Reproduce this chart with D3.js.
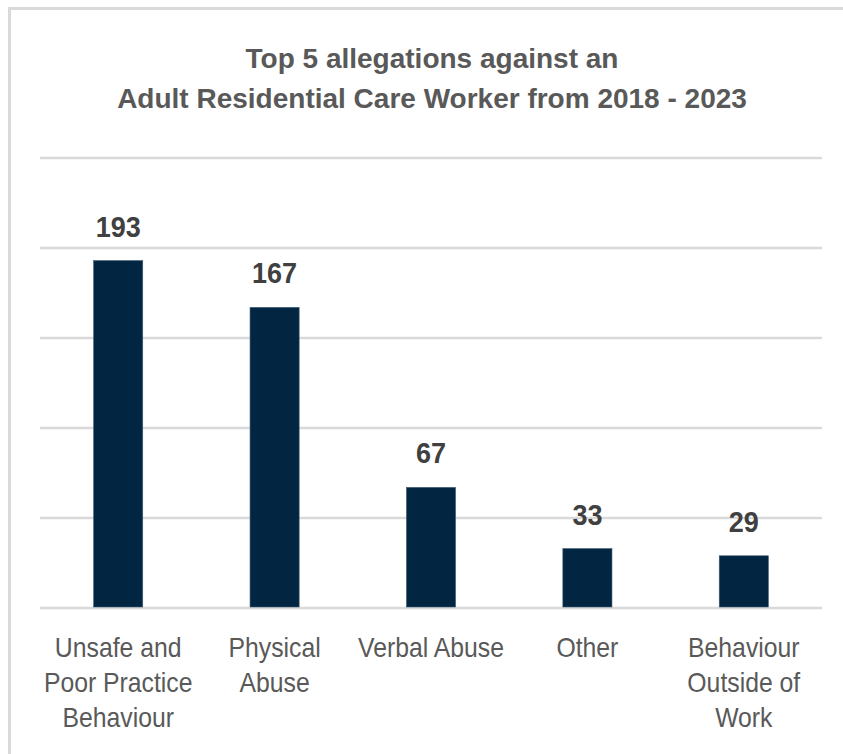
<!DOCTYPE html>
<html>
<head>
<meta charset="utf-8">
<script src="https://cdn.jsdelivr.net/npm/d3@7"></script>
<style>
  body { margin: 0; background: #fff; }
  svg { display: block; font-family: "Liberation Sans", Arial, sans-serif; }
</style>
</head>
<body>
<div id="chart"></div>
<script>
// chart data
const categories = [
    ['Unsafe and', 'Poor Practice', 'Behaviour'],
    ['Physical', 'Abuse'],
    ['Verbal Abuse'],
    ['Other'],
    ['Behaviour', 'Outside of', 'Work']
];
const values = [193, 167, 67, 33, 29];
const gridTicks = [0, 50, 100, 150, 200, 250];
const titleLines = ['Top 5 allegations against an', 'Adult Residential Care Worker from 2018 - 2023'];

const width = 843;
const height = 754;
const plot = { left: 40, right: 822, top: 158, bottom: 608 };

const svg = d3.select('#chart')
    .append('svg')
    .attr('width', width)
    .attr('height', height);

// outer frame (only top and left edges show)
svg.append('path')
    .attr('d', `M9.5,${height} L9.5,8.5 L${width},8.5`)
    .attr('fill', 'none')
    .attr('stroke', '#d9d9d9')
    .attr('stroke-width', 3);

// title
svg.append('g')
    .selectAll('text')
    .data(titleLines)
    .enter()
    .append('text')
    .attr('x', 432)
    .attr('y', (d, i) => 68 + i * 40)
    .attr('text-anchor', 'middle')
    .attr('font-size', '28px')
    .attr('font-weight', 'bold')
    .attr('fill', '#595959')
    .text(d => d);

const x = d3.scaleBand()
    .domain(d3.range(values.length))
    .range([plot.left, plot.right])
    .paddingInner(0.686)
    .paddingOuter(0.343);

const y = d3.scaleLinear()
    .domain([0, 250])
    .range([plot.bottom, plot.top]);

// gridlines
svg.append('g')
    .selectAll('line')
    .data(gridTicks)
    .enter()
    .append('line')
    .attr('x1', plot.left)
    .attr('x2', plot.right)
    .attr('y1', d => y(d))
    .attr('y2', d => y(d))
    .attr('stroke', '#d9d9d9')
    .attr('stroke-width', 2.5);

// bars
svg.append('g')
    .selectAll('rect')
    .data(values)
    .enter()
    .append('rect')
    .attr('x', (d, i) => x(i))
    .attr('y', d => y(d))
    .attr('width', x.bandwidth())
    .attr('height', d => y(0) - y(d) - 1)
    .attr('fill', '#022642')
    .attr('stroke', '#3d5a73')
    .attr('stroke-width', 0.6);

// value labels (a little taller and narrower, as in the original)
svg.append('g')
    .selectAll('g')
    .data(values)
    .enter()
    .append('g')
    .attr('transform', (d, i) => `translate(${x(i) + x.bandwidth() / 2},${y(d) - 24}) scale(0.9,1)`)
    .append('text')
    .attr('text-anchor', 'middle')
    .attr('font-size', '30px')
    .attr('font-weight', 'bold')
    .attr('fill', '#404040')
    .text(d => d);

// category labels, slightly condensed like the original
const cat = svg.append('g')
    .selectAll('g')
    .data(categories)
    .enter()
    .append('g')
    .attr('transform', (d, i) => `translate(${x(i) + x.bandwidth() / 2},657) scale(0.885,1)`);

cat.selectAll('text')
    .data(d => d)
    .enter()
    .append('text')
    .attr('x', 0)
    .attr('y', (d, i) => i * 35)
    .attr('text-anchor', 'middle')
    .attr('font-size', '28px')
    .attr('fill', '#595959')
    .text(d => d);
</script>
</body>
</html>
